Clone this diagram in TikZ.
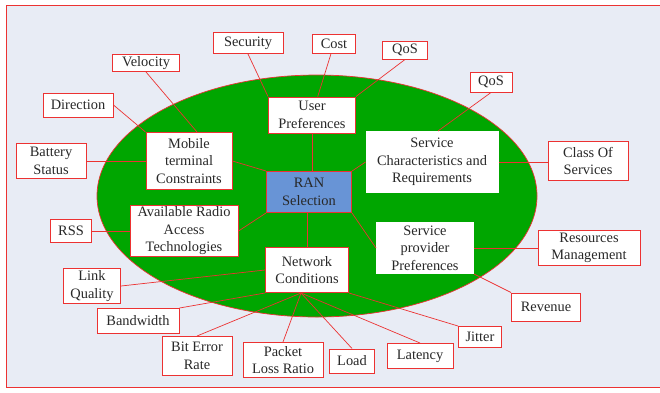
\documentclass[tikz,border=0pt]{standalone}
\usepackage{fontspec}
\setmainfont{Liberation Serif}
\usetikzlibrary{calc}

\definecolor{bgpanel}{RGB}{232,236,245}
\definecolor{linered}{RGB}{236,50,50}
\definecolor{ovalgreen}{RGB}{0,166,0}
\definecolor{ranblue}{RGB}{104,148,214}
\definecolor{txtgrey}{RGB}{40,40,40}

\begin{document}
\begin{tikzpicture}[
    x=1pt, y=-1pt,
    box/.style={draw=linered, fill=white, line width=1pt, align=center, inner sep=1pt,
      text=txtgrey, font=\fontsize{14.4}{17.5}\selectfont},
    factor/.style={box},
    plainfactor/.style={box, draw=white},
    ranbox/.style={box, fill=ranblue},
    link/.style={draw=linered, line width=0.7pt}
]
\useasboundingbox (0,0) rectangle (660,392);

% Panel and oval
\fill[bgpanel] (6,5) rectangle (664,387);
\draw[linered, line width=1pt] (6,5) rectangle (664,387);
\draw[fill=ovalgreen, draw=linered, line width=0.7pt] (317,196) ellipse [x radius=220, y radius=121];

% Centre
\node[ranbox, minimum width=85, minimum height=41] (ran) at (309,192) {RAN\\Selection};

% Inner factors
\node[factor, minimum width=87, minimum height=36] (user) at (312,115) {User\\Preferences};
\node[factor, minimum width=86, minimum height=57] (mobile) at (189,161) {Mobile\\terminal\\Constraints};
\node[plainfactor, minimum width=132, minimum height=61] (service) at (432,162) {Service\\Characteristics and\\Requirements};
\node[factor, minimum width=108, minimum height=51] (radio) at (184,231) {Available Radio\\Access\\Technologies};
\node[factor, minimum width=83, minimum height=45] (network) at (307,270) {Network\\Conditions};
\node[plainfactor, minimum width=97, minimum height=51] (provider) at (425,248) {Service\\provider\\Preferences};

% User preference criteria
\node[box, minimum width=70, minimum height=21] (security) at (248,43) {Security};
\node[box, minimum width=43, minimum height=19] (cost) at (334,44) {Cost};
\node[box, minimum width=45, minimum height=18] (qosuser) at (405,50) {QoS};

% Mobile terminal criteria
\node[box, minimum width=67, minimum height=17] (velocity) at (146,63) {Velocity};
\node[box, minimum width=70, minimum height=24] (direction) at (78,105) {Direction};
\node[box, minimum width=70, minimum height=35] (battery) at (51,161) {Battery\\Status};

% Service criteria
\node[box, minimum width=42, minimum height=20] (qosservice) at (491,82) {QoS};
\node[box, minimum width=80, minimum height=39] (classof) at (588,161) {Class Of\\Services};

% Radio access criteria
\node[box, minimum width=41, minimum height=23] (rss) at (71,231) {RSS};

% Provider criteria
\node[box, minimum width=102, minimum height=35] (resources) at (589,248) {Resources\\Management};
\node[box, minimum width=69, minimum height=28] (revenue) at (546,307) {Revenue};

% Network criteria
\node[box, minimum width=57, minimum height=35] (link) at (92,286) {Link\\Quality};
\node[box, minimum width=82, minimum height=25] (bandwidth) at (138,321) {Bandwidth};
\node[box, minimum width=70, minimum height=39] (ber) at (197,356) {Bit Error\\Rate};
\node[box, minimum width=80, minimum height=35] (packet) at (283,360) {Packet\\Loss Ratio};
\node[box, minimum width=45, minimum height=24] (load) at (352,361) {Load};
\node[box, minimum width=66, minimum height=25] (latency) at (420,356) {Latency};
\node[box, minimum width=43, minimum height=21] (jitter) at (480,337) {Jitter};

\coordinate (netfan) at ([xshift=-6pt]network.south);

% Links to the centre
\draw[link] (user.south) -- (user.south |- ran.north);
\draw[link] (mobile.east) -- (ran.north west);
\draw[link] (service.west) -- (ran.north east);
\draw[link] (radio.east) -- (ran.south west);
\draw[link] (ran.south -| network.north) -- (network.north);
\draw[link] (ran.south east) -- (provider.west);

% Links to the criteria
\draw[link] (security.south) -- (user.north west);
\draw[link] (cost) -- (user);
\draw[link] (qosuser.south) -- (user.north east);
\draw[link] (velocity.south) -- ([xshift=8pt]mobile.north);
\draw[link] (direction.east) -- (mobile.north west);
\draw[link] (battery.east) -- (mobile.west);
\draw[link] (qosservice.south) -- ([xshift=6pt]service.north);
\draw[link] (service.east) -- (service.east -| classof.west);
\draw[link] (rss.east) -- (radio.west);
\draw[link] (provider.east) -- (resources.west);
\draw[link] (provider.south east) -- (revenue.north west);
\draw[link] (network.west) -- (link.east);
\draw[link] (network.south west) -- (bandwidth.north east);
\draw[link] (netfan) -- (ber.north);
\draw[link] (netfan) -- (packet.north);
\draw[link] (netfan) -- (load.north);
\draw[link] (netfan) -- (latency.north);
\draw[link] (network.south east) -- (jitter.north west);

\end{tikzpicture}
\end{document}
